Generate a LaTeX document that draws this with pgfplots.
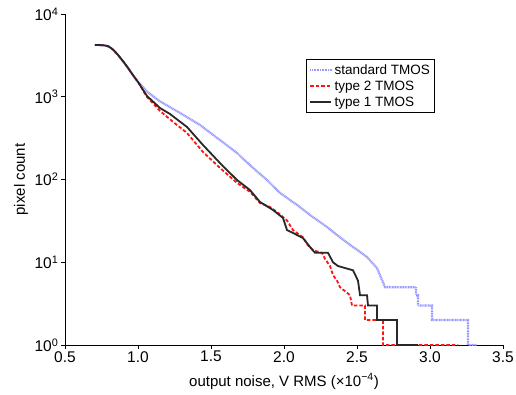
\documentclass[border=0pt]{standalone}
\usepackage{fontspec}
\setmainfont{Liberation Sans}
\usepackage{pgfplots}
\pgfplotsset{compat=1.18}
\definecolor{stdblue}{RGB}{150,150,255}
\definecolor{typered}{RGB}{255,20,20}
\definecolor{typeblack}{RGB}{40,40,40}
\begin{document}
\begin{tikzpicture}
\begin{axis}[name=ax, scale only axis, width=438pt, height=331pt,
  xmin=0.5, xmax=3.5, ymode=log, ymin=1, ymax=10000,
  axis lines*=left, tick align=outside,
  axis line style={line width=0.8pt},
  major tick length=4pt,
  tick style={line width=0.8pt, black},
  xtick={0.5,1.0,1.5,2.0,2.5,3.0,3.5},
  xticklabels={0.5,1.0,1.5,2.0,2.5,3.0,3.5},
  ytick={1,10,100,1000,10000},
  yticklabels={10\textsuperscript{0},10\textsuperscript{1},10\textsuperscript{2},10\textsuperscript{3},10\textsuperscript{4}},
  yminorticks=false,
  tick label style={font=\fontsize{15.5}{17}\selectfont},
  xticklabel style={inner sep=2pt},
  yticklabel style={inner sep=2.5pt},
  xlabel={output noise, V RMS (×10\textsuperscript{−4})},
  ylabel={pixel count},
  label style={font=\fontsize{15}{17}\selectfont},
  xlabel style={at={(axis description cs:0.5,0)}, anchor=base, yshift=-41pt},
  ylabel style={at={(axis description cs:0,0.5)}, anchor=base, yshift=40pt},
  legend style={at={(0.550,0.864)}, anchor=north west, draw=black, line width=0.8pt,
    font=\fontsize{13.5}{15}\selectfont, inner sep=3pt, row sep=1pt},
  legend cell align=left,
  legend image code/.code={\draw[#1] (0pt,0pt) -- (21pt,0pt);},
]
\addplot[stdblue, line width=2.2pt, dash pattern=on 1pt off 0.6pt] coordinates {
(0.705,4220) (0.74,4210) (0.77,4180) (0.80,4050) (0.83,3700) (0.863,3200) (0.90,2650) (0.932,2225) (0.966,1820) (1.0,1508)
(1.0137,1440) (1.0616,1150) (1.1507,880) (1.2877,637) (1.4247,456) (1.5616,300) (1.6781,209) (1.7877,138)
(1.8836,98.6) (1.9726,68.7) (2.0890,49.4) (2.1781,37.2) (2.2945,26.7) (2.3836,20) (2.4726,15.3) (2.5685,11.6)
(2.6370,8.5) (2.6918,5) (2.8973,5) (2.9041,5) (2.9041,4) (2.9178,4) (2.9178,3) (3.0137,3) (3.0137,2)
(3.2603,2) (3.2603,1) (3.3219,1)
};
\addlegendentry{standard TMOS}
\addplot[typered, line width=1.8pt, dash pattern=on 3.5pt off 2pt] coordinates {
(0.705,4220) (0.74,4210) (0.77,4180) (0.80,4050) (0.83,3700) (0.863,3200) (0.90,2650) (0.932,2225) (0.966,1820) (1.0,1508)
(1.0616,993) (1.1507,673) (1.2329,509) (1.3356,365) (1.4452,215) (1.5616,138) (1.6781,91) (1.7671,71) (1.8356,52)
(1.9041,46.5) (1.9521,40.5) (2.0205,32) (2.0616,24.5) (2.1301,20) (2.1644,16) (2.1986,14) (2.2603,13) (2.2808,11)
(2.3151,9) (2.3356,7) (2.3630,6) (2.3836,5) (2.4521,4) (2.4658,3) (2.5548,3) (2.5548,2) (2.6781,2) (2.6781,1) (3.1918,1)
};
\addlegendentry{type 2 TMOS}
\addplot[typeblack, line width=1.8pt] coordinates {
(0.705,4220) (0.74,4210) (0.77,4180) (0.80,4050) (0.83,3700) (0.863,3200) (0.90,2650) (0.932,2225) (0.966,1820) (1.0,1508)
(1.0616,1021) (1.1507,731) (1.2192,619) (1.3356,431) (1.4452,261) (1.5616,158) (1.6781,98.6) (1.7671,74.6) (1.8356,53.5)
(1.9247,42.8) (1.9932,34.3) (2.0205,24.5) (2.0616,22.6) (2.1301,19.6) (2.1781,15.3) (2.2123,13) (2.3014,13) (2.3356,10)
(2.3699,9) (2.4726,8) (2.5068,6) (2.5205,4) (2.5685,4) (2.5753,3) (2.6370,3) (2.6370,2) (2.7740,2) (2.7740,1) (2.9178,1)
};
\addlegendentry{type 1 TMOS}
\end{axis}
\pgfresetboundingbox
\path[use as bounding box] (ax.south west) ++(-65pt,-49pt) rectangle ++(516pt,394pt);
\end{tikzpicture}
\end{document}
